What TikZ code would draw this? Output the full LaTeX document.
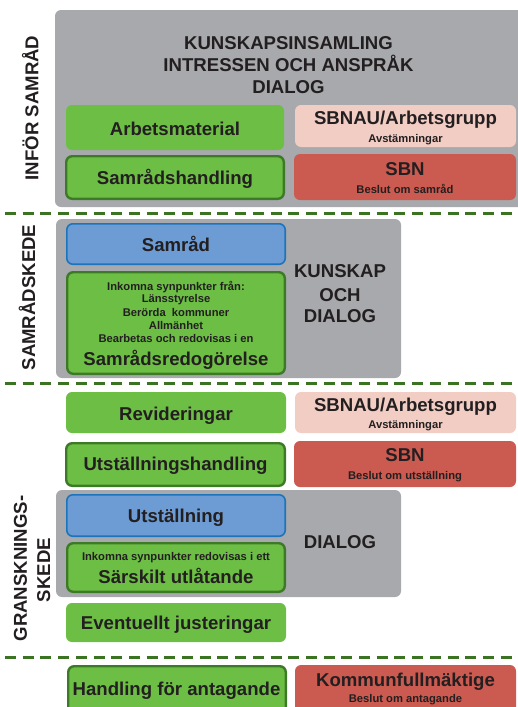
\documentclass[tikz,border=0pt]{standalone}
\usepackage{fontspec}
\setmainfont{Liberation Sans}
\definecolor{gfill}{HTML}{6DBE45}
\definecolor{gline}{HTML}{3D7A27}
\definecolor{grayb}{HTML}{A7A9AC}
\definecolor{pinkb}{HTML}{F2CDC4}
\definecolor{redb}{HTML}{CB5A50}
\definecolor{bluef}{HTML}{6D9BD3}
\definecolor{bluel}{HTML}{1C75BC}
\definecolor{txt}{HTML}{231F20}
\definecolor{dashg}{HTML}{3A7423}
\tikzset{
  graybox/.style={fill=grayb, rounded corners=6pt},
  greenbox/.style={fill=gfill, rounded corners=6pt},
  greenbord/.style={fill=gfill, draw=gline, line width=2.4pt, rounded corners=6pt},
  bluebox/.style={fill=bluef, draw=bluel, line width=1.6pt, rounded corners=6pt},
  pinkbox/.style={fill=pinkb, rounded corners=6pt},
  redbox/.style={fill=redb, rounded corners=6pt},
  big/.style={anchor=base, inner sep=0pt, text=txt, font=\bfseries\fontsize{18.6}{22}\selectfont},
  small/.style={anchor=base, inner sep=0pt, text=txt, font=\bfseries\fontsize{11.2}{13}\selectfont},
  phase/.style={dashg, line width=3pt, dash pattern=on 11pt off 6.7pt},
}
\begin{document}
\begin{tikzpicture}[x=1pt,y=-1pt]
\useasboundingbox (0,0) rectangle (517,707);
% ---- phase 1
\path[graybox] (55,10) rectangle (540,207);
\node[big] (t1) at (288.5,49.5) {KUNSKAPSINSAMLING};
\node[big] (t2) at (288.5,71) {INTRESSEN OCH ANSPRÅK};
\node[big] (t3) at (288.5,93.5) {DIALOG};
\path[greenbox] (66,105) rectangle (284,150);
\node[big] (arb) at (175,135) {Arbetsmaterial};
\path[greenbord] (66.2,156.2) rectangle (283.8,198.8);
\node[big] (samh) at (175,184) {Samrådshandling};
\path[pinkbox] (295,105) rectangle (516,147);
\node[big] (sbnau1) at (405.5,124) {SBNAU/Arbetsgrupp};
\node[small] (avst1) at (405.5,142.7) {Avstämningar};
\path[redbox] (294,154) rectangle (516,200);
\node[big] (sbn1) at (405,175.5) {SBN};
\node[small] (bes1) at (405,193) {Beslut om samråd};
\node[big, rotate=90] (lab1) at (38.3,108) {INFÖR SAMRÅD};
\draw[phase] (5,213) -- (517,213);
% ---- phase 2
\path[graybox] (56,219) rectangle (401,378);
\path[bluebox] (66.8,223.8) rectangle (285.2,264.2);
\node[big] (samr) at (176,251) {Samråd};
\path[greenbord] (67.2,272.2) rectangle (284.8,373.8);
\node[small] (ink1) at (176,290) {Inkomna synpunkter från:};
\node[small] (ink2) at (176,302.3) {Länsstyrelse};
\node[small] (ink3) at (176,316) {Berörda\ \ kommuner};
\node[small] (ink4) at (176,329.3) {Allmänhet};
\node[small] (ink5) at (176,342.7) {Bearbetas och redovisas i en};
\node[big] (redog) at (176,365.7) {Samrådsredogörelse};
\node[big] (k1) at (340,277.7) {KUNSKAP};
\node[big] (k2) at (340,301) {OCH};
\node[big] (k3) at (340,322.3) {DIALOG};
\node[big, rotate=90] (lab2) at (35,297.5) {SAMRÅDSKEDE};
\draw[phase] (5,383) -- (517,383);
% ---- phase 3
\path[greenbox] (66,392) rectangle (286,433);
\node[big] (rev) at (176,420) {Revideringar};
\path[pinkbox] (295,392) rectangle (516,433);
\node[big] (sbnau2) at (405.5,411.7) {SBNAU/Arbetsgrupp};
\node[small] (avst2) at (405.5,428.3) {Avstämningar};
\path[greenbord] (66.2,443.2) rectangle (284.8,485.8);
\node[big] (utsh) at (175.5,470.7) {Utställningshandling};
\path[redbox] (294,441) rectangle (516,487);
\node[big] (sbn2) at (405,461.7) {SBN};
\node[small] (bes2) at (405,479.3) {Beslut om utställning};
\path[graybox] (56,490) rectangle (401,597);
\path[bluebox] (66.8,494.8) rectangle (285.2,536.2);
\node[big] (utst) at (176,522.7) {Utställning};
\path[greenbord] (67.2,543.2) rectangle (284.8,591.8);
\node[small] (ink6) at (176,560) {Inkomna synpunkter redovisas i ett};
\node[big] (sars) at (176,583.3) {Särskilt utlåtande};
\node[big] (dial) at (340,548.3) {DIALOG};
\path[greenbox] (66,603) rectangle (286,642);
\node[big] (event) at (176,629.3) {Eventuellt justeringar};
\node[big, rotate=90] (lab3a) at (27,568.5) {GRANSKNINGS-};
\node[big, rotate=90] (lab3b) at (50,570) {SKEDE};
\draw[phase] (5,657) -- (517,657);
% ---- phase 4
\path[greenbord] (68.2,666.2) rectangle (285.8,715);
\node[big] (hand) at (176.5,695) {Handling för antagande};
\path[redbox] (295,665) rectangle (516,716);
\node[big] (kf) at (405.5,686) {Kommunfullmäktige};
\node[small] (bes3) at (405.5,702.7) {Beslut om antagande};
\end{tikzpicture}
\end{document}
